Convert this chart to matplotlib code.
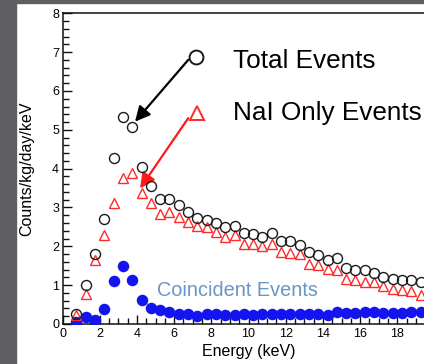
import numpy as np
import matplotlib.pyplot as plt
from matplotlib.patches import Rectangle
from matplotlib.ticker import MultipleLocator

plt.rcParams['font.family'] = ['Liberation Sans', 'DejaVu Sans']

# energy bin centers (keV)
energy = [0.75, 1.25, 1.75, 2.25, 2.75, 3.25, 3.75, 4.25, 4.75, 5.25,
          5.75, 6.25, 6.75, 7.25, 7.75, 8.25, 8.75, 9.25, 9.75, 10.25,
          10.75, 11.25, 11.75, 12.25, 12.75, 13.25, 13.75, 14.25, 14.75, 15.25,
          15.75, 16.25, 16.75, 17.25, 17.75, 18.25, 18.75, 19.25, 19.75]

total = [0.25, 1.00, 1.80, 2.70, 4.27, 5.32, 5.07, 4.05, 3.56, 3.21,
         3.22, 3.06, 2.89, 2.74, 2.68, 2.60, 2.50, 2.52, 2.35, 2.33,
         2.24, 2.35, 2.14, 2.14, 2.04, 1.86, 1.77, 1.66, 1.70, 1.44,
         1.40, 1.38, 1.32, 1.21, 1.17, 1.13, 1.13, 1.08, 1.04]

nai_only = [0.22, 0.77, 1.65, 2.29, 3.11, 3.75, 3.90, 3.38, 3.11, 2.82,
            2.89, 2.76, 2.62, 2.53, 2.49, 2.37, 2.24, 2.28, 2.07, 2.06,
            2.00, 2.07, 1.86, 1.84, 1.79, 1.55, 1.51, 1.41, 1.38, 1.17,
            1.13, 1.08, 1.08, 0.97, 0.89, 0.87, 0.85, 0.74, 0.65]

coincident = [0.04, 0.19, 0.10, 0.38, 1.11, 1.50, 1.13, 0.62, 0.40, 0.36,
              0.30, 0.27, 0.25, 0.21, 0.25, 0.25, 0.23, 0.23, 0.25, 0.23,
              0.25, 0.26, 0.25, 0.25, 0.26, 0.25, 0.25, 0.23, 0.30, 0.29,
              0.29, 0.30, 0.31, 0.28, 0.29, 0.29, 0.30, 0.32, 0.33]

fig = plt.figure(figsize=(4.24, 3.64), dpi=100)
# axes runs past the right edge of the picture (cropped like the original)
ax = fig.add_axes([62.5 / 424, 40 / 364, 372 / 424, 310.7 / 364])

ax.plot(energy, coincident, 'o', color='#1414f0', ms=8.3, mew=0, zorder=3)
ax.plot(energy, nai_only, '^', mfc='none', mec='#ff2a2a', ms=7.5, mew=1.0, zorder=4)
ax.plot(energy, total, 'o', mfc='none', mec='#1a1a1a', ms=7.2, mew=1.0, zorder=5)

# legend-like labels with arrows
ax.plot([7.18], [6.87], 'o', mfc='none', mec='#1a1a1a', ms=10, mew=1.4, clip_on=False)
ax.plot([7.22], [5.43], '^', mfc='none', mec='#ff2a2a', ms=10, mew=1.4, clip_on=False)
ax.annotate('', xy=(3.90, 5.21), xytext=(6.76, 6.80),
            arrowprops=dict(arrowstyle='-|>,head_length=0.9,head_width=0.45',
                            color='black', lw=1.6, shrinkA=0, shrinkB=0))
ax.annotate('', xy=(4.17, 3.49), xytext=(6.76, 5.30),
            arrowprops=dict(arrowstyle='-|>,head_length=0.9,head_width=0.45',
                            color='#ff1a1a', lw=1.6, shrinkA=0, shrinkB=0))
ax.text(9.18, 6.58, 'Total Events', fontsize=18.8, va='baseline', ha='left')
ax.text(9.18, 5.25, 'NaI Only Events', fontsize=18.8, va='baseline', ha='left')
ax.text(5.06, 0.71, 'Coincident Events', fontsize=14.3, color='#6896c6',
        va='baseline', ha='left')

ax.set_xlim(0, 20)
ax.set_ylim(0, 8)
ax.xaxis.set_major_locator(MultipleLocator(2))
ax.xaxis.set_minor_locator(MultipleLocator(0.5))
ax.yaxis.set_major_locator(MultipleLocator(1))
ax.yaxis.set_minor_locator(MultipleLocator(0.2))
ax.tick_params(which='both', direction='in', width=1.0, color='#111111')
ax.tick_params(which='major', length=6.8, labelsize=9)
ax.tick_params(axis='y', which='major', pad=2.5)
ax.tick_params(axis='x', which='major', pad=3)
ax.tick_params(which='minor', length=4)
for s in ax.spines.values():
    s.set_linewidth(1.1)
    s.set_color('#111111')

ax.set_xlabel('Energy (keV)', fontsize=11.5)
ax.set_ylabel('Counts/kg/day/keV', fontsize=11.5)
ax.xaxis.set_label_coords(0.5, -0.064)
ax.xaxis.label.set_va('top')
ax.yaxis.set_label_coords(-0.077, 0.5)

# dark frame strips on the left and top of the screenshot
fig.patches.append(Rectangle((0, 0), 16 / 424, 1, transform=fig.transFigure,
                             color='#5f5e61', zorder=10))
fig.patches.append(Rectangle((0, 1 - 3 / 364), 1, 3 / 364, transform=fig.transFigure,
                             color='#5f5e61', zorder=10))

fig.savefig('out.png', dpi=100)
